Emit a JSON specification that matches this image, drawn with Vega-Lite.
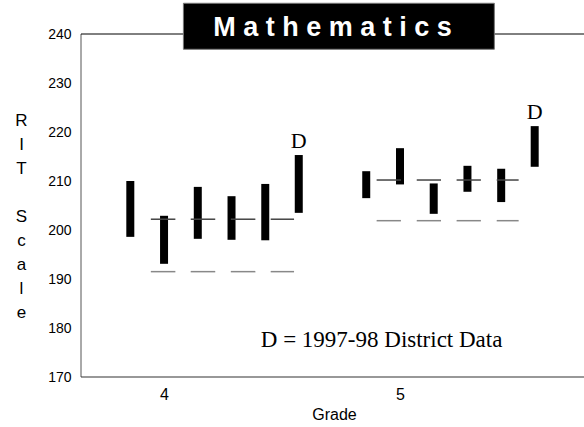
{
  "$schema": "https://vega.github.io/schema/vega-lite/v6.json",
  "width": 503,
  "height": 343,
  "autosize": "none",
  "padding": {"left": 81, "top": 34, "right": 0, "bottom": 50},
  "config": {
    "view": {"stroke": null},
    "font": "Liberation Sans",
    "axis": {"domain": false, "ticks": false, "grid": false},
    "axisRight": {"disable": true, "domain": false, "labels": false, "ticks": false, "grid": false},
    "axisTop": {"disable": true, "domain": false, "labels": false, "ticks": false, "grid": false}
  },
  "datasets": {
    "bars": [
      {"grade": 4, "series": "A", "pos": 3.857, "low": 198.6, "high": 210.0},
      {"grade": 4, "series": "B", "pos": 4.000, "low": 193.1, "high": 202.9},
      {"grade": 4, "series": "C", "pos": 4.143, "low": 198.2, "high": 208.8},
      {"grade": 4, "series": "D", "pos": 4.286, "low": 198.0, "high": 206.9},
      {"grade": 4, "series": "E", "pos": 4.429, "low": 197.9, "high": 209.4},
      {"grade": 4, "series": "District", "pos": 4.571, "low": 203.5, "high": 215.3},
      {"grade": 5, "series": "A", "pos": 4.857, "low": 206.5, "high": 212.0},
      {"grade": 5, "series": "B", "pos": 5.000, "low": 209.3, "high": 216.7},
      {"grade": 5, "series": "C", "pos": 5.143, "low": 203.3, "high": 209.5},
      {"grade": 5, "series": "D", "pos": 5.286, "low": 207.8, "high": 213.1},
      {"grade": 5, "series": "E", "pos": 5.429, "low": 205.7, "high": 212.5},
      {"grade": 5, "series": "District", "pos": 5.571, "low": 212.9, "high": 221.2}
    ],
    "marks": [
      {"grade": 4, "kind": "upper", "start": 3.944, "end": 4.048, "score": 202.2},
      {"grade": 4, "kind": "upper", "start": 4.113, "end": 4.217, "score": 202.2},
      {"grade": 4, "kind": "upper", "start": 4.283, "end": 4.387, "score": 202.2},
      {"grade": 4, "kind": "upper", "start": 4.452, "end": 4.551, "score": 202.2},
      {"grade": 4, "kind": "lower", "start": 3.944, "end": 4.048, "score": 191.5},
      {"grade": 4, "kind": "lower", "start": 4.113, "end": 4.217, "score": 191.5},
      {"grade": 4, "kind": "lower", "start": 4.283, "end": 4.387, "score": 191.5},
      {"grade": 4, "kind": "lower", "start": 4.452, "end": 4.551, "score": 191.5},
      {"grade": 5, "kind": "upper", "start": 4.901, "end": 5.004, "score": 210.2},
      {"grade": 5, "kind": "upper", "start": 5.071, "end": 5.174, "score": 210.2},
      {"grade": 5, "kind": "upper", "start": 5.240, "end": 5.343, "score": 210.2},
      {"grade": 5, "kind": "upper", "start": 5.410, "end": 5.503, "score": 210.2},
      {"grade": 5, "kind": "lower", "start": 4.901, "end": 5.004, "score": 201.9},
      {"grade": 5, "kind": "lower", "start": 5.071, "end": 5.174, "score": 201.9},
      {"grade": 5, "kind": "lower", "start": 5.240, "end": 5.343, "score": 201.9},
      {"grade": 5, "kind": "lower", "start": 5.410, "end": 5.503, "score": 201.9}
    ]
  },
  "layer": [
    {
      "data": {"name": "bars"},
      "mark": {"type": "rule", "color": "black", "strokeWidth": 8},
      "encoding": {
        "x": {
          "field": "pos", "type": "quantitative",
          "scale": {"domain": [3.648, 5.78], "nice": false, "zero": false},
          "axis": {
            "orient": "bottom",
            "values": [4, 5], "format": "d", "tickSize": 0, "labelPadding": 9,
            "labelFontSize": 16, "labelColor": "black",
            "title": "Grade", "titleFontSize": 16, "titleFontWeight": "normal",
            "titleColor": "black", "titleX": 253, "titleY": 42,
            "titleBaseline": "alphabetic", "titleAlign": "center"
          }
        },
        "y": {
          "field": "low", "type": "quantitative",
          "scale": {"domain": [170, 240], "nice": false, "zero": false},
          "axis": {
            "orient": "left",
            "values": [170, 180, 190, 200, 210, 220, 230, 240],
            "tickSize": 0, "labelPadding": 10,
            "labelFontSize": 14, "labelColor": "black",
            "title": ["R", "I", "T", "\u200b", "S", "c", "a", "l", "e"],
            "titleAngle": 0, "titleFontSize": 17, "titleFontWeight": "normal",
            "titleColor": "black", "titleLineHeight": 24,
            "titleAlign": "center", "titleBaseline": "top",
            "titleX": -60, "titleY": 78
          }
        },
        "y2": {"field": "high"}
      }
    },
    {
      "data": {"values": [{}]},
      "mark": {"type": "rule", "color": "#555555", "strokeWidth": 1},
      "encoding": {"x": {"datum": 3.648, "type": "quantitative"}}
    },
    {
      "data": {"values": [{}]},
      "mark": {"type": "rule", "color": "#333333", "strokeWidth": 1.2},
      "encoding": {"y": {"datum": 170, "type": "quantitative"}}
    },
    {
      "data": {"values": [{}]},
      "mark": {"type": "rule", "color": "black", "strokeWidth": 1},
      "encoding": {"y": {"datum": 240, "type": "quantitative"}}
    },
    {
      "data": {"values": [{}]},
      "mark": {"type": "rect", "fill": "black", "stroke": "#777", "strokeWidth": 1},
      "encoding": {
        "x": {"datum": 4.082, "type": "quantitative"},
        "x2": {"datum": 5.4},
        "y": {"datum": 246.27, "type": "quantitative"},
        "y2": {"datum": 236.88}
      }
    },
    {
      "data": {"values": [{"title": "M a t h e m a t i c s"}]},
      "mark": {"type": "text", "font": "Liberation Sans", "fontSize": 27, "fontWeight": "bold", "color": "white", "align": "center", "baseline": "alphabetic"},
      "encoding": {
        "text": {"field": "title"},
        "x": {"datum": 4.714, "type": "quantitative"},
        "y": {"datum": 239.6, "type": "quantitative"}
      }
    },
    {
      "data": {"name": "marks"},
      "mark": {"type": "rule", "strokeWidth": 1.5},
      "encoding": {
        "x": {"field": "start", "type": "quantitative"},
        "x2": {"field": "end"},
        "y": {"field": "score", "type": "quantitative"},
        "color": {
          "field": "kind", "type": "nominal",
          "scale": {"domain": ["upper", "lower"], "range": ["#444444", "#888888"]},
          "legend": null
        }
      }
    },
    {
      "data": {"name": "bars"},
      "transform": [{"filter": "datum.series === 'District'"}],
      "mark": {"type": "text", "text": "D", "font": "Liberation Serif", "fontSize": 22, "baseline": "alphabetic", "align": "center", "dy": -7, "color": "black"},
      "encoding": {
        "x": {"field": "pos", "type": "quantitative"},
        "y": {"field": "high", "type": "quantitative"}
      }
    },
    {
      "data": {"values": [{}]},
      "mark": {"type": "text", "text": "D = 1997-98 District Data", "font": "Liberation Serif", "fontSize": 23, "baseline": "alphabetic", "align": "left", "color": "black"},
      "encoding": {
        "x": {"datum": 4.41, "type": "quantitative"},
        "y": {"datum": 176.1, "type": "quantitative"}
      }
    }
  ]
}
